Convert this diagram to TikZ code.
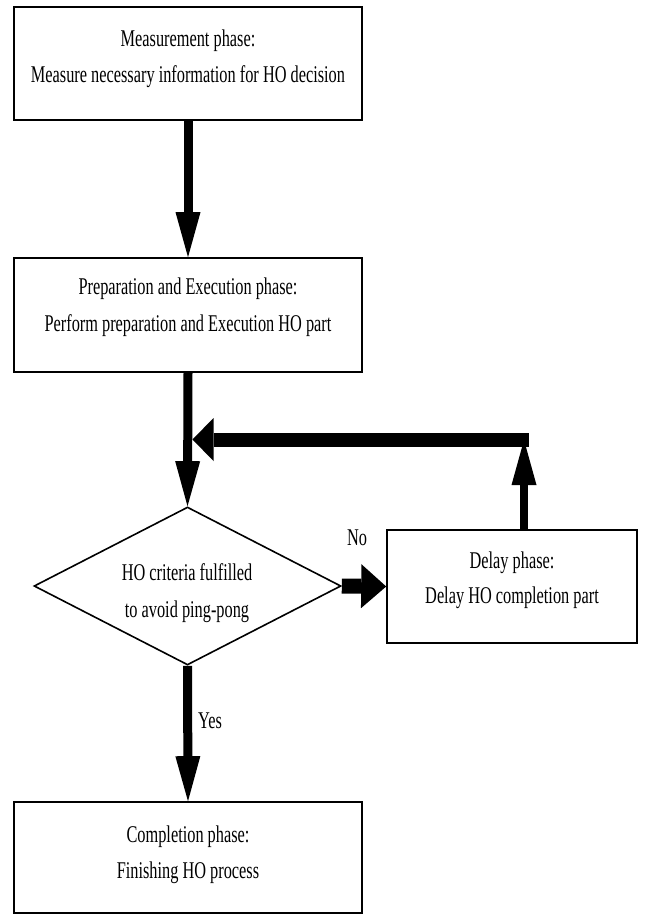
\documentclass[tikz,border=0pt]{standalone}
\usepackage{fontspec}
\setmainfont{Liberation Serif}[FakeStretch=0.68]
\usetikzlibrary{arrows.meta,shapes.geometric}
\begin{document}
\begin{tikzpicture}[x=1pt,y=-1pt,
  box/.style={draw,line width=1.6pt,rectangle,inner sep=0pt,fill=white},
  dec/.style={draw,line width=1.6pt,diamond,inner sep=0pt,fill=white},
  txt/.style={anchor=base,inner sep=0pt,font=\fontsize{24}{28}\selectfont},
  flow/.style={line width=9pt,-{Triangle[width=25pt,length=45pt,line width=0pt]}},
  sideflow/.style={line width=15pt,-{Triangle[width=44pt,length=25pt,line width=0pt]}},
  backflow/.style={line width=14pt,-{Triangle[width=43pt,length=21pt,line width=0pt]}}
]
\useasboundingbox (0,0) rectangle (645,915);

% boxes
\node[box,minimum width=348pt,minimum height=113pt] (meas) at (188,63.5) {};
\node[box,minimum width=348pt,minimum height=114pt] (prep) at (188,315) {};
\node[dec,minimum width=307pt,minimum height=158pt] (crit) at (187.5,586) {};
\node[box,minimum width=250pt,minimum height=113pt] (dly) at (512,586.5) {};
\node[box,minimum width=348pt,minimum height=111pt] (comp) at (188,857.5) {};

% texts
\node[txt] (meas1) at (188,47) {Measurement phase:};
\node[txt] (meas2) at (188,83) {Measure necessary information for HO decision};
\node[txt] (prep1) at (188,294) {Preparation and Execution phase:};
\node[txt] (prep2) at (188,331) {Perform preparation and Execution HO part};
\node[txt] (crit1) at (187,580) {HO criteria fulfilled};
\node[txt] (crit2) at (187,617) {to avoid ping-pong};
\node[txt] (dly1) at (512,568) {Delay phase:};
\node[txt] (dly2) at (512,603) {Delay HO completion part};
\node[txt] (comp1) at (188,842) {Completion phase:};
\node[txt] (comp2) at (188,878) {Finishing HO process};
\node[txt] (no) at (357,545) {No};
\node[txt,anchor=base west] (yes) at (198,728) {Yes};

% connectors
\draw[flow] (meas.south) -- (prep.north);
\draw[flow] (prep.south) -- (crit.north);
\draw[flow] (crit.south) -- (comp.north);
\draw[sideflow] (crit.east) -- (dly.west);
\coordinate (fbT) at (524,440);
\coordinate (fbR) at (528.5,439.5);
\coordinate (fbL) at (192.5,439.5);
\draw[flow,line width=8pt] (fbT |- dly.north) -- (fbT);
\draw[backflow] (fbR) -- (fbL);
\end{tikzpicture}
\end{document}
